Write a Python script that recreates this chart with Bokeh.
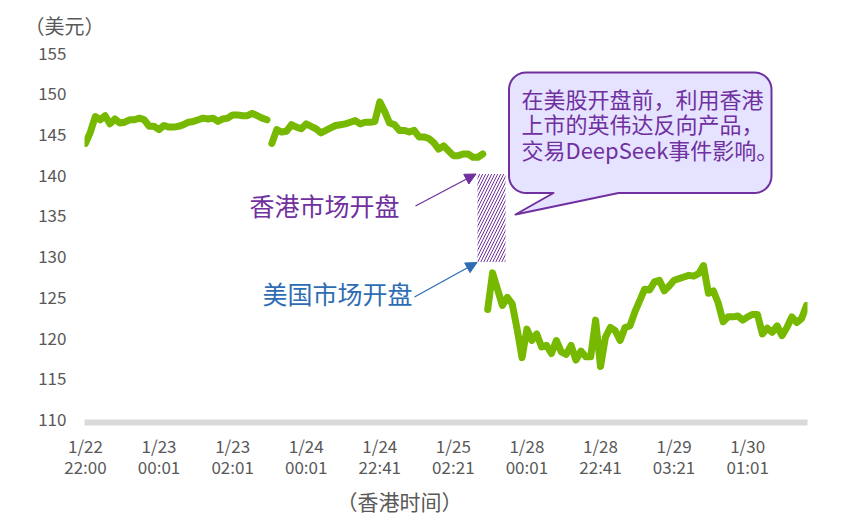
import math
from bokeh.plotting import figure
from bokeh.models import Range1d, FixedTicker, Label, Arrow, NormalHead, Title
from bokeh.embed import file_html
from bokeh.resources import INLINE

# ---------------- data ----------------
tick_positions = [0, 15, 30, 45, 60, 75, 90, 105, 120, 135]
tick_labels = ["1/22\n22:00", "1/23\n00:01", "1/23\n02:01", "1/24\n00:01", "1/24\n22:41",
               "1/25\n02:21", "1/28\n00:01", "1/28\n22:41", "1/29\n03:21", "1/30\n01:01"]
y_ticks = [110, 115, 120, 125, 130, 135, 140, 145, 150, 155]

# session 1 (Hong Kong listed inverse product, part 1)
s1_start = 0
s1_price = [143.9, 145.3, 147.2, 146.8, 147.3, 146.3, 146.9, 146.4, 146.5, 146.8,
            146.8, 147.0, 146.8, 146.0, 146.0, 145.6, 146.1, 145.9, 145.9, 146.0,
            146.2, 146.5, 146.6, 146.8, 147.0, 146.9, 147.0, 146.6, 146.9, 147.0,
            147.4, 147.4, 147.3, 147.3, 147.6, 147.3, 147.0, 146.8]
# session 2
s2_start = 38
s2_price = [143.9, 145.6, 145.3, 145.4, 146.2, 145.9, 145.7, 146.3, 146.0, 145.7,
            145.2, 145.5, 145.8, 146.1, 146.2, 146.3, 146.5, 146.7, 146.3, 146.5,
            146.5, 146.6, 149.0, 147.8, 146.4, 146.2, 145.5, 145.5, 145.3, 145.5,
            144.7, 144.7, 144.5, 144.0, 143.2, 143.6, 143.0, 142.4, 142.4, 142.6,
            142.6, 142.2, 142.2, 142.6]
# US market session
s3_start = 82
s3_price = [123.5, 128.0, 126.0, 124.0, 125.0, 124.2, 121.1, 117.6, 121.1, 119.7,
            120.5, 118.9, 119.1, 118.1, 119.7, 118.3, 118.0, 119.1, 117.3, 118.4,
            117.7, 117.7, 122.2, 116.5, 120.1, 121.3, 120.9, 119.7, 121.3, 121.5,
            123.2, 124.6, 126.0, 125.9, 126.9, 127.1, 125.8, 126.4, 127.1, 127.3,
            127.5, 127.7, 127.6, 127.9, 128.9, 125.5, 125.8, 124.3, 122.0, 122.6,
            122.6, 122.7, 122.2, 122.6, 122.9, 122.9, 120.5, 121.2, 120.7, 121.5,
            120.3, 121.3, 122.6, 121.9, 122.4, 124.0]

# ---------------- layout ----------------
FONT = "Noto Sans CJK SC"
GREEN = "#76B900"
PURPLE = "#7030A0"
BLUE = "#2E6DB4"
GREY = "#595959"

W, H = 834, 528
ML, MR, MT, MB = 84, 27, 46, 106
X0, X1 = -0.2, 147.2
Y0, Y1 = 109.63, 155.8

p = figure(width=W, height=H, output_backend="svg", toolbar_location=None,
           x_range=Range1d(X0, X1), y_range=Range1d(Y0, Y1),
           min_border_left=ML, min_border_right=MR, min_border_top=MT, min_border_bottom=MB)
p.outline_line_color = None
p.xgrid.visible = False
p.ygrid.visible = False
p.background_fill_color = "white"
p.border_fill_color = "white"

# page-pixel helpers for annotation placement
FW = W - ML - MR
FH = H - MT - MB
def px2x(px):
    return X0 + (px - ML) * (X1 - X0) / FW
def py2y(py):
    return Y0 + (MT + FH - py) * (Y1 - Y0) / FH

# unit titles
p.title.text = "（美元）"
p.title.align = "left"
p.title.offset = -60
p.title.text_font = FONT
p.title.text_font_size = "20px"
p.title.text_font_style = "normal"
p.title.text_color = GREY
p.title.standoff = 14

p.add_layout(Title(text="（香港时间）", align="left", offset=252, text_font=FONT,
                   text_font_size="21px", text_font_style="normal", text_color=GREY,
                   standoff=2), "below")

# axes
xa = p.xaxis[0]
xa.ticker = FixedTicker(ticks=tick_positions)
xa.major_label_overrides = {t: l for t, l in zip(tick_positions, tick_labels)}
xa.axis_line_color = "#D9D9D9"
xa.axis_line_width = 6
xa.major_tick_line_color = None
xa.minor_tick_line_color = None
xa.major_label_text_font = FONT
xa.major_label_text_font_size = "17px"
xa.major_label_text_color = GREY
xa.major_label_text_line_height = 0.87
xa.major_label_standoff = 4

ya = p.yaxis[0]
ya.ticker = FixedTicker(ticks=y_ticks)
ya.axis_line_color = None
ya.major_tick_line_color = None
ya.minor_tick_line_color = None
ya.major_label_text_font = FONT
ya.major_label_text_font_size = "17px"
ya.major_label_text_color = GREY
ya.major_label_standoff = 12

# hatched band (gap between HK trading and US open)
p.quad(left=px2x(477), right=px2x(505), bottom=py2y(261.5), top=py2y(173.5),
       fill_alpha=0, line_color=None, hatch_pattern="/", hatch_color=PURPLE,
       hatch_scale=6, hatch_weight=1.0)

# price lines
for start, vals in [(s1_start, s1_price), (s2_start, s2_price), (s3_start, s3_price)]:
    xs = list(range(start, start + len(vals)))
    p.line(xs, vals, line_color=GREEN, line_width=7, line_join="round", line_cap="round")

# callout bubble
L, R, T, B, r = 508.5, 771.0, 72.0, 192.5, 17.0
tail_l, tail_r, tip = 553.0, 618.0, (515.0, 214.0)
pts = []
def arc(cx, cy, a0, a1, n=10):
    for k in range(n + 1):
        a = math.radians(a0 + (a1 - a0) * k / n)
        pts.append((cx + r * math.cos(a), cy + r * math.sin(a)))
arc(R - r, T + r, -90, 0)
arc(R - r, B - r, 0, 90)
pts.append((tail_r, B))
pts.append(tip)
pts.append((tail_l, B))
arc(L + r, B - r, 90, 180)
arc(L + r, T + r, 180, 270)
p.patch([px2x(a) for a, b in pts], [py2y(b) for a, b in pts],
        fill_color="#E5E3FF", line_color=PURPLE, line_width=2, line_join="round")

callout_lines = ["在美股开盘前，利用香港", "上市的英伟达反向产品，", "交易DeepSeek事件影响。"]
for i, t in enumerate(callout_lines):
    p.add_layout(Label(x=px2x(521), y=py2y(97 + 25.8 * i), text=t, text_font=FONT,
                       text_font_size="22px", text_color=PURPLE,
                       text_baseline="middle", text_align="left"))

# event labels with arrows
p.add_layout(Label(x=px2x(249), y=py2y(204), text="香港市场开盘", text_font=FONT,
                   text_font_size="25px", text_color=PURPLE,
                   text_baseline="middle", text_align="left"))
p.add_layout(Label(x=px2x(262), y=py2y(292), text="美国市场开盘", text_font=FONT,
                   text_font_size="25px", text_color=BLUE,
                   text_baseline="middle", text_align="left"))
p.add_layout(Arrow(end=NormalHead(size=11, fill_color=PURPLE, line_color=PURPLE, line_width=1),
                   x_start=px2x(415), y_start=py2y(205.5), x_end=px2x(475.5), y_end=py2y(173.5),
                   line_color=PURPLE, line_width=1.3))
p.add_layout(Arrow(end=NormalHead(size=11, fill_color=BLUE, line_color=BLUE, line_width=1),
                   x_start=px2x(414), y_start=py2y(296.5), x_end=px2x(476.5), y_end=py2y(262),
                   line_color=BLUE, line_width=1.3))

open("out.html", "w").write(file_html(p, INLINE))
